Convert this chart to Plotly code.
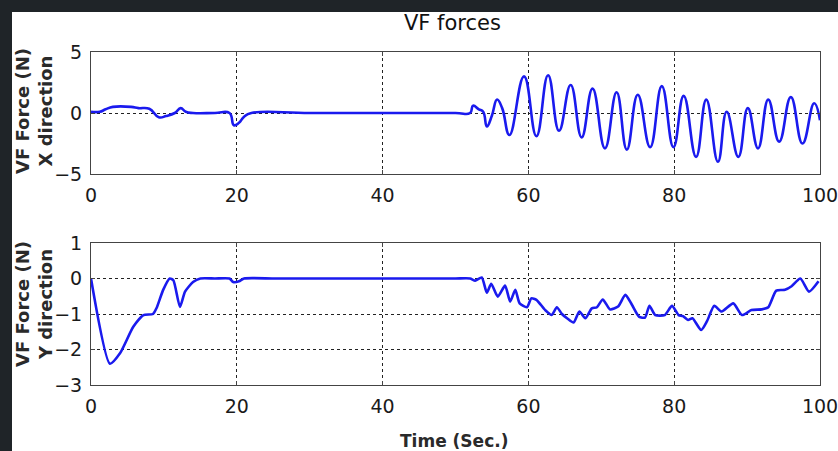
import plotly.graph_objects as go

# ---- data ----
time_x = [0, 1.2, 2, 3, 5.5, 6.5, 8, 9.3, 10.3, 11.5, 12.3, 13, 14, 17, 19, 19.6, 20.3, 21, 22,
          30, 40, 50, 52, 52.4, 53.2, 53.8, 54.3, 55, 55.7, 56.4, 57.4, 59.4, 61.1, 62.7, 64.2, 65.8,
          67.3, 68.8, 70.5, 72.1, 73.5, 75.0, 76.7, 78.3, 79.9, 81.3, 83.0, 84.4, 86.0,
          87.2, 88.8, 90.1, 91.5, 92.9, 94.4, 96.0, 97.6, 99.2, 100]
force_x = [0.1, 0.1, 0.3, 0.5, 0.5, 0.4, 0.35, -0.35, -0.25, 0, 0.4, 0.1, 0, 0, 0, -1.0, -0.8, -0.3, 0,
           0, 0, 0, 0, 0.6, 0.3, 0.1, -1.1, -0.2, 1.1, 0.4, -1.8, 3.0, -1.9, 3.1, -1.45, 2.3,
           -2.0, 2.0, -2.9, 1.7, -3.0, 1.5, -2.8, 2.2, -2.8, 1.4, -3.6, 1.1, -4.0,
           0.1, -3.6, 0.4, -2.9, 1.1, -2.35, 1.3, -2.5, 0.8, -0.6]

time_y = [0, 2.6, 4, 5.8, 7.2, 8.5, 9, 9.9, 10.8, 11.3, 12.2, 12.9, 14, 15, 17, 19, 19.5, 20.3, 21,
          25, 30, 40, 50, 52, 52.7, 53.6, 54.3, 54.9, 55.8, 56.8, 57.5, 58.2, 58.8, 59.8, 60.4, 61.1, 62.3,
          63.2, 63.9, 64.6, 65.3, 66.2, 67, 67.8, 68.7, 69.4, 70.2, 71.2, 72.3, 73.3, 74.2,
          75.2, 76, 76.6, 77.4, 78.7, 79.7, 80.6, 81.2, 81.9, 82.5, 83.7, 84.5, 85.5, 86.5,
          88.1, 89.3, 90.6, 92, 92.9, 94, 95.2, 96.1, 97.3, 98.5, 99.8]
force_y = [0, -2.4, -2.1, -1.36, -1.03, -1.0, -0.83, -0.32, 0, -0.05, -0.8, -0.37, -0.1, 0, 0, 0, -0.1, -0.08, 0,
           0, 0, 0, 0, 0, -0.06, 0.03, -0.4, -0.15, -0.51, -0.2, -0.65, -0.32, -0.7, -0.81, -0.56, -0.6, -0.89,
           -1.03, -0.81, -1.0, -1.12, -1.24, -0.93, -1.12, -0.84, -0.81, -0.59, -0.87, -0.79, -0.46, -0.74,
           -1.08, -1.1, -0.77, -1.03, -1.03, -0.77, -1.03, -1.06, -1.17, -1.12, -1.45, -1.2, -0.77, -0.93,
           -0.7, -1.03, -0.89, -0.87, -0.81, -0.34, -0.32, -0.22, 0, -0.37, -0.08]

x_ticks = [0, 20, 40, 60, 80, 100]
yx_ticks = [-5, 0, 5]
yy_ticks = [-3, -2, -1, 0, 1]

title_text = "VF forces"
xlabel_text = "Time (Sec.)"
ylabel_top = "VF Force (N)<br>X direction"
ylabel_bot = "VF Force (N)<br>Y direction"

# ---- figure ----
line_col = "#1a1aee"
fig = go.Figure()
fig.add_trace(go.Scatter(x=time_x, y=force_x, mode="lines", xaxis="x", yaxis="y",
                         line=dict(color=line_col, width=2.6, shape="spline", smoothing=1.3),
                         showlegend=False))
fig.add_trace(go.Scatter(x=time_y, y=force_y, mode="lines", xaxis="x2", yaxis="y2",
                         line=dict(color=line_col, width=2.6, shape="spline", smoothing=0.6),
                         showlegend=False))

tickfont = dict(family="DejaVu Sans", size=19, color="#1a1a1a")
common_x = dict(range=[0, 100], tickvals=x_ticks, showline=True, linecolor="#444444", linewidth=1,
                mirror="ticks", ticks="inside", ticklen=4, tickcolor="#444444",
                showgrid=True, gridcolor="#222222", griddash="dot", gridwidth=1,
                zeroline=False, tickfont=tickfont, ticklabelstandoff=4,
                automargin=False, ticklabeloverflow="allow")
common_y = dict(showline=True, linecolor="#444444", linewidth=1,
                mirror="ticks", ticks="inside", ticklen=4, tickcolor="#444444",
                showgrid=True, gridcolor="#222222", griddash="dot", gridwidth=1,
                zeroline=False, tickfont=tickfont, ticklabelstandoff=4,
                automargin=False, ticklabeloverflow="allow")

W, H = 838, 451
L, R, T, B = 91, 18, 52, 66
pw, ph = W - L - R, H - T - B

def px2x(p):
    return (p - L) / pw

def py2y(p):
    return (H - B - p) / ph

fig.update_layout(
    width=W, height=H,
    margin=dict(l=L, r=R, t=T, b=B, autoexpand=False),
    paper_bgcolor="#1f2428",
    plot_bgcolor="white",
    xaxis=dict(domain=[0, 1], anchor="y", **common_x),
    yaxis=dict(domain=[py2y(174), 1], anchor="x", range=[-5, 5], tickvals=yx_ticks, **common_y),
    xaxis2=dict(domain=[0, 1], anchor="y2", **common_x),
    yaxis2=dict(domain=[0, py2y(243)], anchor="x2", range=[-3, 1], tickvals=yy_ticks, **common_y),
    shapes=[dict(type="rect", xref="paper", yref="paper",
                 x0=px2x(12), x1=px2x(W + 5), y0=py2y(H + 5), y1=py2y(12),
                 fillcolor="white", line=dict(width=0), layer="below")],
    annotations=[
        dict(text=title_text, x=px2x(452), y=py2y(23), xref="paper", yref="paper",
             xanchor="center", yanchor="middle", showarrow=False,
             font=dict(family="DejaVu Sans", size=21, color="#111111")),
        dict(text="<b>" + xlabel_text + "</b>", x=px2x(454), y=py2y(441), xref="paper", yref="paper",
             xanchor="center", yanchor="middle", showarrow=False,
             font=dict(family="DejaVu Sans", size=17, color="#2a2a2a")),
        dict(text="<b>" + ylabel_top + "</b>", x=px2x(34), y=py2y(111), xref="paper", yref="paper",
             xanchor="center", yanchor="middle", showarrow=False, textangle=-90,
             font=dict(family="DejaVu Sans", size=18, color="#2a2a2a")),
        dict(text="<b>" + ylabel_bot + "</b>", x=px2x(34), y=py2y(304), xref="paper", yref="paper",
             xanchor="center", yanchor="middle", showarrow=False, textangle=-90,
             font=dict(family="DejaVu Sans", size=18, color="#2a2a2a")),
    ],
)

fig.write_html("out.html", config={"displayModeBar": False},
               post_script="document.body.style.margin='0';document.body.style.overflow='hidden';")
